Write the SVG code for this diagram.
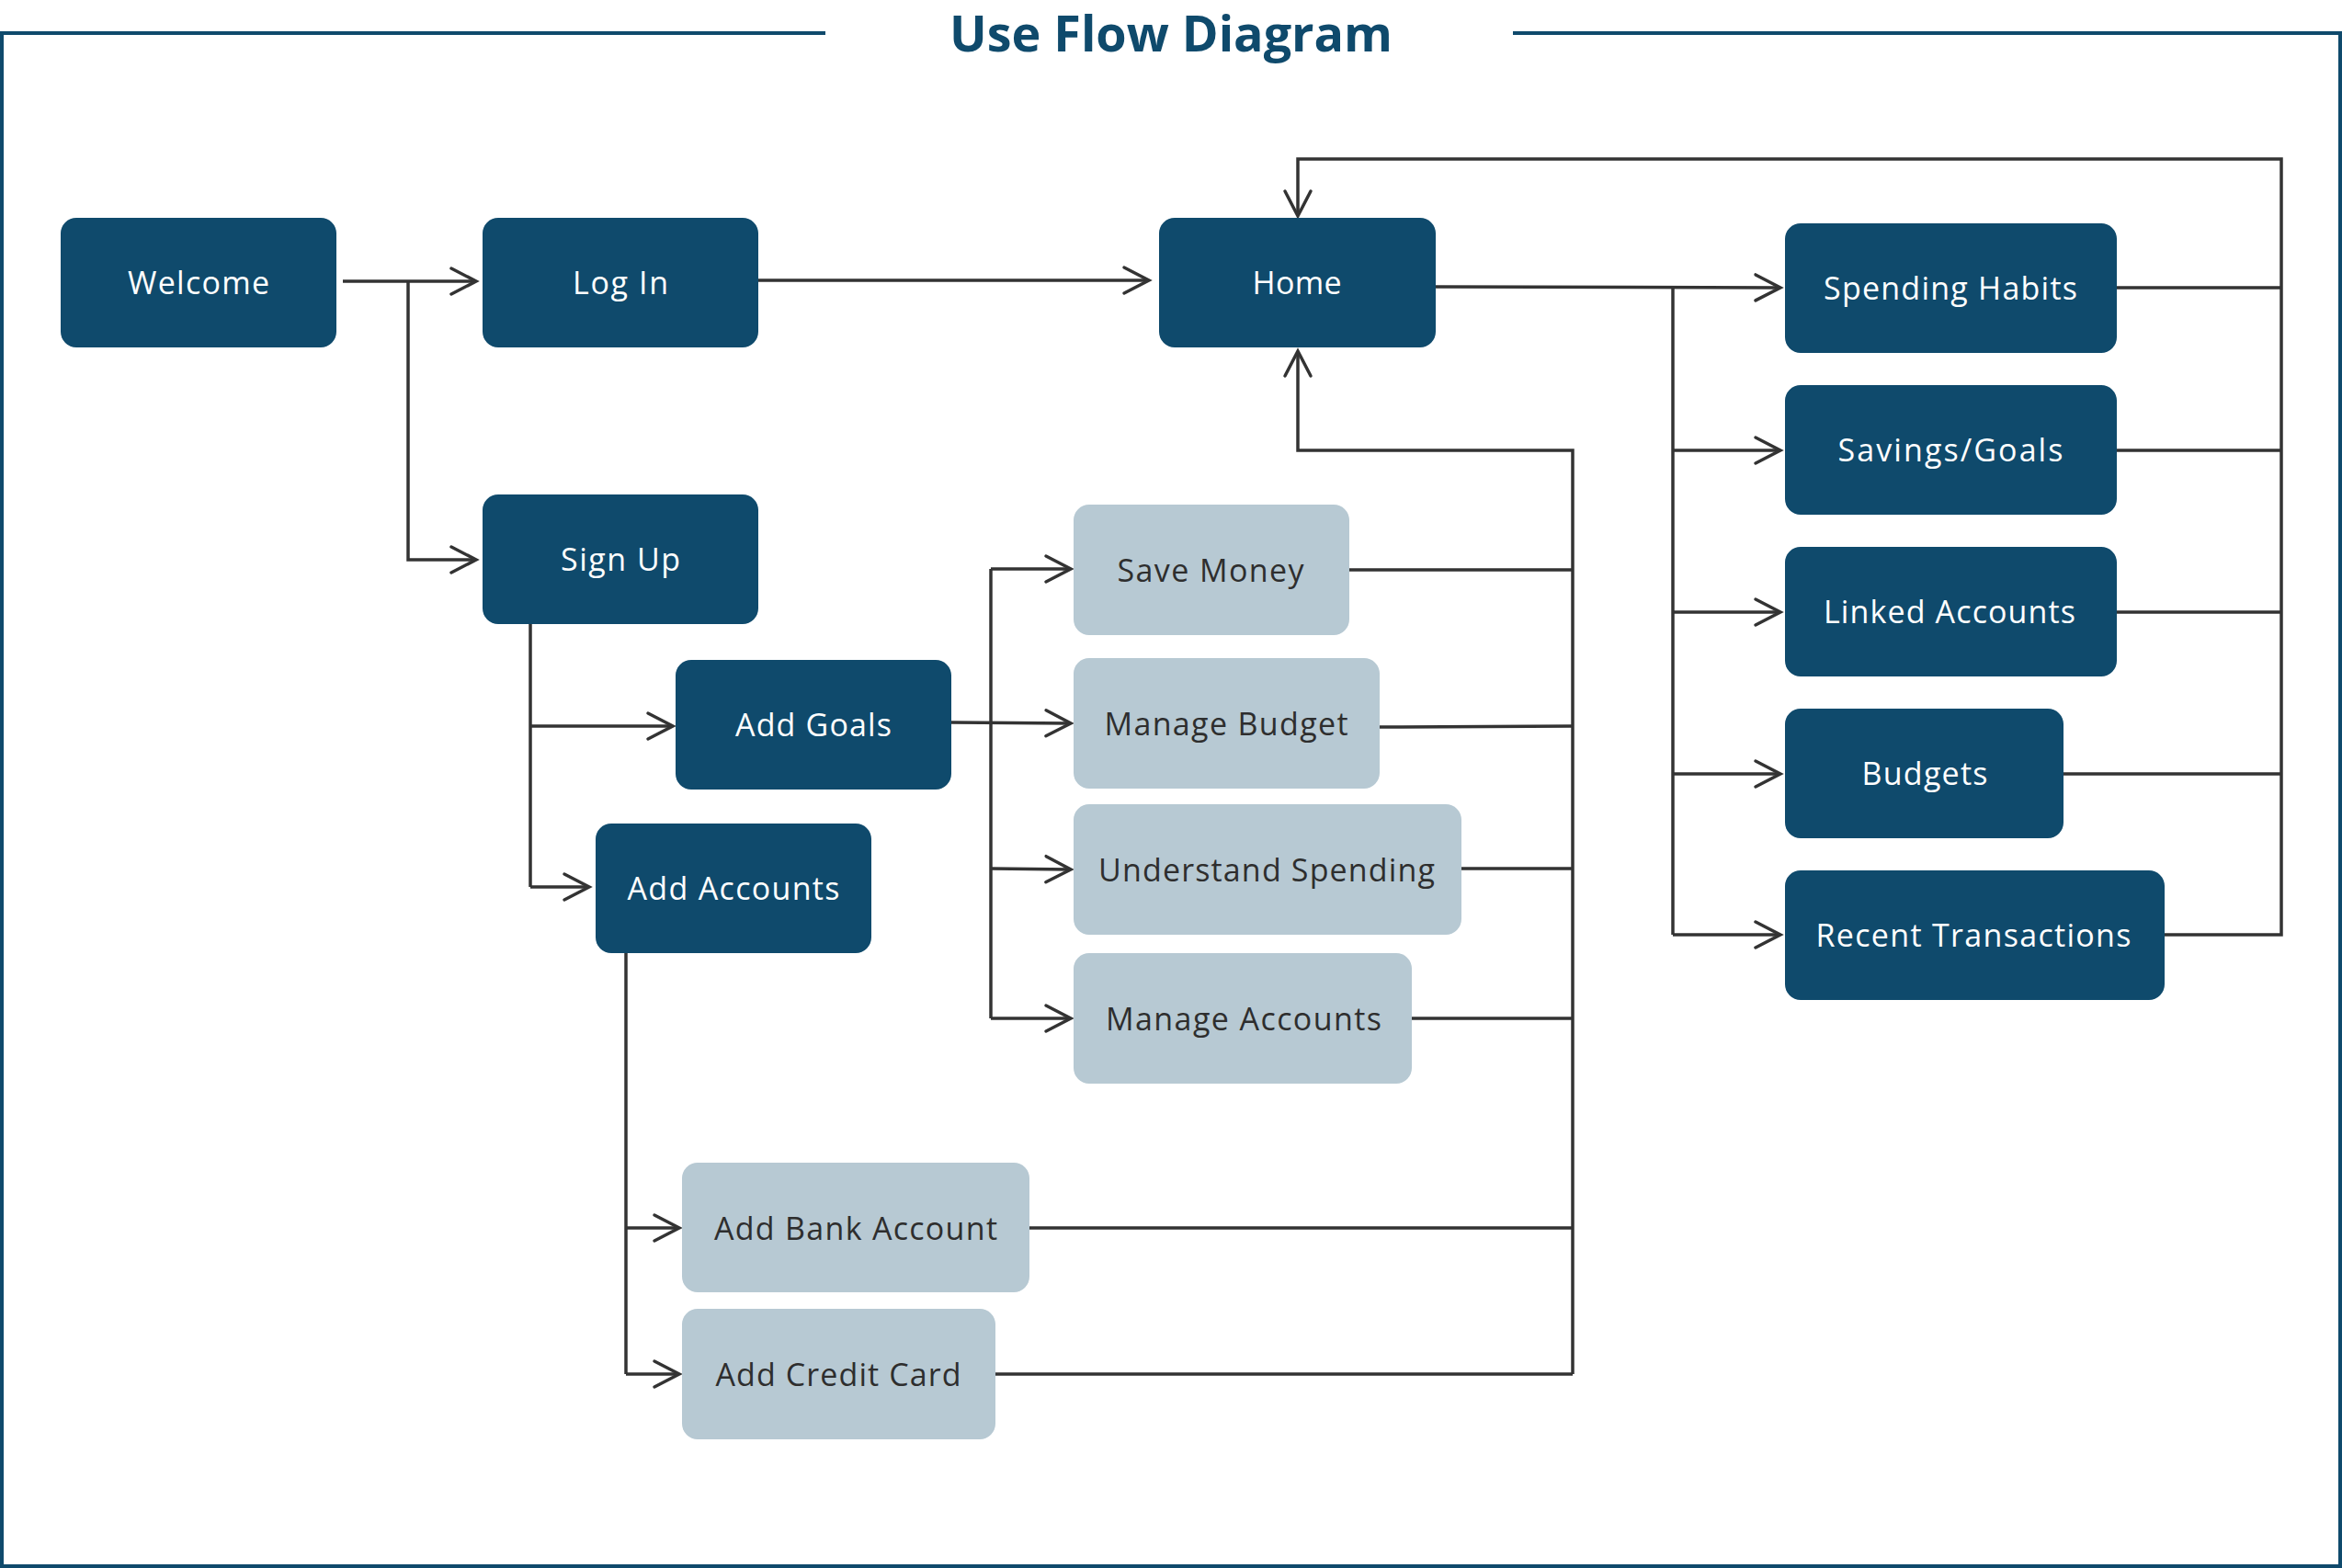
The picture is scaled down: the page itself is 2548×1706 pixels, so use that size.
<svg xmlns="http://www.w3.org/2000/svg" width="2548" height="1706" viewBox="0 0 2548 1706">
<defs>
<marker id="arr" markerUnits="userSpaceOnUse" markerWidth="40" markerHeight="40" viewBox="-32 -20 40 40" refX="0" refY="0" orient="auto" overflow="visible">
<path d="M-27,-14 L0,0 L-27,14" fill="none" stroke="#333333" stroke-width="3.5" stroke-linecap="round" stroke-linejoin="miter"/>
</marker>
<style>
.dark{fill:#0f4a6c}
.light{fill:#b7c9d3}
.tw{fill:#ffffff;font-family:"Open Sans","Liberation Sans",sans-serif;font-size:34px;text-anchor:middle}
.tk{fill:#2e2e2e;font-family:"Open Sans","Liberation Sans",sans-serif;font-size:34px;text-anchor:middle}
.ln{fill:none;stroke:#333333;stroke-width:3.5;stroke-linejoin:miter}
.ar{marker-end:url(#arr)}
.frame{fill:none;stroke:#0f4a6c;stroke-width:4}
</style>
</defs>
<rect width="2548" height="1706" fill="#ffffff"/>
<g id="frame">
<path class="frame" d="M898,36 L2,36 L2,1704 L2546,1704 L2546,36 L1646,36"/>
<text x="1274" y="56" fill="#0f4a6c" font-family="'Open Sans','Liberation Sans',sans-serif" font-size="54" font-weight="700" text-anchor="middle" textLength="482" lengthAdjust="spacingAndGlyphs">Use Flow Diagram</text>
</g>
<g id="connectors">
<path class="ln ar" d="M373,306 L518,306"/>
<path class="ln ar" d="M444,306 L444,609 L518,609"/>
<path class="ln ar" d="M825,305 L1250,305"/>
<path class="ln ar" d="M2482,312 L2482,173 L1412,173 L1412,235"/>
<path class="ln" d="M2303,313 L2482,313 M2303,490 L2482,490 M2303,666 L2482,666 M2245,842 L2482,842 M2355,1017 L2482,1017 L2482,312"/>
<path class="ln ar" d="M1562,312 L1937,313"/>
<path class="ln" d="M1820,313 L1820,1017"/>
<path class="ln ar" d="M1820,490 L1937,490"/>
<path class="ln ar" d="M1820,666 L1937,666"/>
<path class="ln ar" d="M1820,842 L1937,842"/>
<path class="ln ar" d="M1820,1017 L1937,1017"/>
<path class="ln ar" d="M1711,1495 L1711,490 L1412,490 L1412,382"/>
<path class="ln" d="M1468,620 L1711,620 M1501,791 L1711,790 M1590,945 L1711,945 M1536,1108 L1711,1108 M1120,1336 L1711,1336 M1083,1495 L1711,1495"/>
<path class="ln" d="M577,679 L577,965"/>
<path class="ln ar" d="M577,790 L732,790"/>
<path class="ln ar" d="M577,965 L641,965"/>
<path class="ln ar" d="M1035,786 L1165,787"/>
<path class="ln" d="M1078,619 L1078,1108"/>
<path class="ln ar" d="M1078,619 L1165,619"/>
<path class="ln ar" d="M1078,945 L1165,946"/>
<path class="ln ar" d="M1078,1108 L1165,1108"/>
<path class="ln" d="M681,1037 L681,1495"/>
<path class="ln ar" d="M681,1336 L739,1336"/>
<path class="ln ar" d="M681,1495 L739,1495"/>
</g>
<g id="welcome"><rect class="dark" x="66" y="237" width="300" height="141" rx="17"/><text class="tw" x="216" y="320" textLength="154" lengthAdjust="spacing">Welcome</text></g>
<g id="login"><rect class="dark" x="525" y="237" width="300" height="141" rx="17"/><text class="tw" x="675" y="320" textLength="104" lengthAdjust="spacing">Log In</text></g>
<g id="home"><rect class="dark" x="1261" y="237" width="301" height="141" rx="17"/><text class="tw" x="1411" y="320" textLength="97" lengthAdjust="spacing">Home</text></g>
<g id="signup"><rect class="dark" x="525" y="538" width="300" height="141" rx="17"/><text class="tw" x="675" y="621" textLength="130" lengthAdjust="spacing">Sign Up</text></g>
<g id="addgoals"><rect class="dark" x="735" y="718" width="300" height="141" rx="17"/><text class="tw" x="885" y="801" textLength="170" lengthAdjust="spacing">Add Goals</text></g>
<g id="addaccounts"><rect class="dark" x="648" y="896" width="300" height="141" rx="17"/><text class="tw" x="798" y="979" textLength="231" lengthAdjust="spacing">Add Accounts</text></g>
<g id="savemoney"><rect class="light" x="1168" y="549" width="300" height="142" rx="17"/><text class="tk" x="1317" y="633" textLength="203" lengthAdjust="spacing">Save Money</text></g>
<g id="managebudget"><rect class="light" x="1168" y="716" width="333" height="142" rx="17"/><text class="tk" x="1334" y="800" textLength="265" lengthAdjust="spacing">Manage Budget</text></g>
<g id="understandspending"><rect class="light" x="1168" y="875" width="422" height="142" rx="17"/><text class="tk" x="1378" y="959" textLength="366" lengthAdjust="spacing">Understand Spending</text></g>
<g id="manageaccounts"><rect class="light" x="1168" y="1037" width="368" height="142" rx="17"/><text class="tk" x="1353" y="1121" textLength="300" lengthAdjust="spacing">Manage Accounts</text></g>
<g id="addbankaccount"><rect class="light" x="742" y="1265" width="378" height="141" rx="17"/><text class="tk" x="931" y="1349" textLength="308" lengthAdjust="spacing">Add Bank Account</text></g>
<g id="addcreditcard"><rect class="light" x="742" y="1424" width="341" height="142" rx="17"/><text class="tk" x="912" y="1508" textLength="267" lengthAdjust="spacing">Add Credit Card</text></g>
<g id="spendinghabits"><rect class="dark" x="1942" y="243" width="361" height="141" rx="17"/><text class="tw" x="2122" y="326" textLength="276" lengthAdjust="spacing">Spending Habits</text></g>
<g id="savingsgoals"><rect class="dark" x="1942" y="419" width="361" height="141" rx="17"/><text class="tw" x="2122" y="502" textLength="245" lengthAdjust="spacing">Savings/Goals</text></g>
<g id="linkedaccounts"><rect class="dark" x="1942" y="595" width="361" height="141" rx="17"/><text class="tw" x="2121" y="678" textLength="274" lengthAdjust="spacing">Linked Accounts</text></g>
<g id="budgets"><rect class="dark" x="1942" y="771" width="303" height="141" rx="17"/><text class="tw" x="2094" y="854" textLength="137" lengthAdjust="spacing">Budgets</text></g>
<g id="recenttransactions"><rect class="dark" x="1942" y="947" width="413" height="141" rx="17"/><text class="tw" x="2147" y="1030" textLength="343" lengthAdjust="spacing">Recent Transactions</text></g>
</svg>
